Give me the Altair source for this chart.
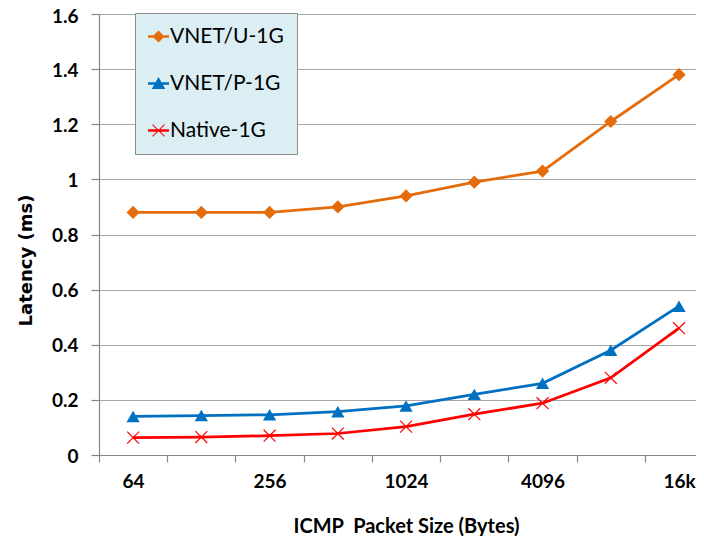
import altair as alt
import pandas as pd

# ---- data ----
sizes = ["64", "128", "256", "512", "1024", "2048", "4096", "8192", "16k"]
series_names = ["VNET/U-1G", "VNET/P-1G", "Native-1G"]
vnet_u = [0.88, 0.88, 0.88, 0.90, 0.94, 0.99, 1.03, 1.21, 1.38]
vnet_p = [0.14, 0.143, 0.146, 0.157, 0.178, 0.22, 0.26, 0.38, 0.54]
native = [0.063, 0.065, 0.07, 0.078, 0.103, 0.148, 0.188, 0.28, 0.46]
y_ticks = [0, 0.2, 0.4, 0.6, 0.8, 1, 1.2, 1.4, 1.6]
colors = ["#E46C0A", "#0070C0", "#FF0000"]

rows = []
for name, vals in zip(series_names, [vnet_u, vnet_p, native]):
    for i, (s, v) in enumerate(zip(sizes, vals)):
        rows.append({"idx": i, "size": s, "series": name, "latency": v})
df = pd.DataFrame(rows)


# ---- marker shapes (unit paths) ----
def poly(pts):
    a = sum(x1 * y2 - x2 * y1 for (x1, y1), (x2, y2) in zip(pts, pts[1:] + pts[:1]))
    if a < 0:
        pts = pts[::-1]
    return "M" + "L".join(f"{x:.3f},{y:.3f}" for x, y in pts) + "Z"


def bar(x1, y1, x2, y2, t):
    dx, dy = x2 - x1, y2 - y1
    L = (dx * dx + dy * dy) ** 0.5
    nx, ny = -dy / L * t, dx / L * t
    return poly([(x1 + nx, y1 + ny), (x2 + nx, y2 + ny), (x2 - nx, y2 - ny), (x1 - nx, y1 - ny)])


x_data = bar(-0.9, -0.9, 0.9, 0.9, 0.09) + bar(-0.9, 0.9, 0.9, -0.9, 0.09)
data_shapes = ["diamond", "triangle-up", x_data]

leg_line = bar(-1, 0, 1, 0, 0.13)
leg_u = leg_line + poly([(0, -0.58), (0.58, 0), (0, 0.58), (-0.58, 0)])
leg_p = leg_line + poly([(0, -0.62), (0.64, 0.52), (-0.64, 0.52)])
leg_n = leg_line + bar(-0.57, -0.57, 0.57, 0.57, 0.05) + bar(-0.57, 0.57, 0.57, -0.57, 0.05)
legend_shapes = [leg_u, leg_p, leg_n]

FONT = "Lato"
N = len(sizes)
step_half = 34.12
label_arr = "[" + ",".join(f"'{s}'" for s in sizes) + "]"

x_enc = alt.X(
    "idx:Q",
    scale=alt.Scale(domain=[-0.5, 8.249], nice=False, zero=False),
    axis=alt.Axis(
        values=list(range(N)),
        tickOffset=-step_half,
        labelOffset=step_half,
        labelExpr=f"datum.value % 2 == 0 ? {label_arr}[datum.value] : ''",
        labelFlush=False,
        labelOverlap=False,
        grid=False,
        tickSize=7,
        labelPadding=10,
        labelFontSize=19,
        title="ICMP\u00a0 Packet Size (Bytes)",
        titleFont=FONT,
        titleFontSize=20,
        titleX=307,
        titleY=77,
        titleBaseline="alphabetic",
        titleAlign="center",
    ),
)
y_enc = alt.Y(
    "latency:Q",
    scale=alt.Scale(domain=[0, 1.6], nice=False),
    axis=alt.Axis(
        values=y_ticks,
        format="~g",
        grid=True,
        tickSize=8,
        labelPadding=13,
        labelFontSize=19,
        labelOffset={"expr": "datum.value >= 1.59 ? 2 : 1"},
        title="Latency (ms)",
        titleFont="DejaVu Sans",
        titleFontSize=18,
        titleX=-67.5,
        titleY=246,
        titleAngle=270,
        titleAlign="center",
        titleBaseline="alphabetic",
    ),
)

color_data = alt.Scale(domain=series_names, range=colors)

lines = alt.Chart(df).mark_line(strokeWidth=2.75).encode(
    x=x_enc, y=y_enc,
    color=alt.Color("series:N", scale=color_data, legend=None),
)
points = alt.Chart(df).mark_point(filled=True, size=175, opacity=1).encode(
    x=x_enc, y=y_enc,
    color=alt.Color("series:N", scale=color_data, legend=None),
    shape=alt.Shape("series:N", scale=alt.Scale(domain=series_names, range=data_shapes), legend=None),
)
legend_layer = alt.Chart(df).transform_filter("false").mark_point(
    filled=True, size=441, opacity=1
).encode(
    x=x_enc, y=y_enc,
    color=alt.Color("series:N", scale=alt.Scale(domain=series_names, range=colors),
                    legend=alt.Legend(title=None)),
    shape=alt.Shape("series:N", scale=alt.Scale(domain=series_names, range=legend_shapes),
                    legend=alt.Legend(title=None)),
)

chart = (
    alt.layer(lines, points, legend_layer)
    .resolve_scale(color="independent", shape="independent")
    .properties(
        width=597,
        height=441,
        autosize=alt.AutoSizeParams(type="none"),
        padding={"left": 91, "top": 6, "right": 0, "bottom": 81},
    )
    .configure_view(stroke=None)
    .configure_axis(
        labelFont=FONT,
        labelFontWeight="bold",
        labelColor="#000000",
        titleFontWeight="bold",
        titleColor="#000000",
        domainColor="#868686",
        domainWidth=1.2,
        tickColor="#868686",
        tickWidth=1.2,
        gridColor="#A6A6A6",
        gridWidth=1.2,
    )
    .configure_legend(
        orient="none",
        legendX=36,
        legendY=-1,
        fillColor="#DBEEF4",
        strokeColor="#8C8C8C",
        padding=13,
        rowPadding=25,
        labelFont=FONT,
        labelFontSize=21,
        labelColor="#000000",
        labelOffset=1,
        symbolSize=441,
        symbolStrokeWidth=0,
        symbolOpacity=1,
    )
)

chart.save("out.html", embed_options={"renderer": "svg", "actions": False})
